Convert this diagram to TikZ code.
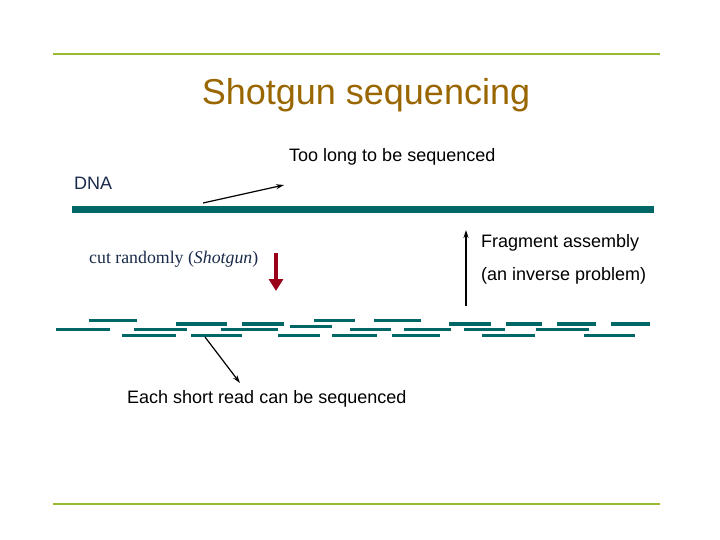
\documentclass[tikz,border=0pt]{standalone}
\usepackage{fontspec}
\setmainfont{Liberation Sans}
\newfontfamily\serifff{Liberation Serif}
\usetikzlibrary{arrows.meta}
\definecolor{olive}{HTML}{99BB33}
\definecolor{teal2}{HTML}{006666}
\definecolor{brownT}{HTML}{996600}
\definecolor{navy}{HTML}{1A2A4A}
\definecolor{darkred}{HTML}{99001A}
\begin{document}
\begin{tikzpicture}[x=1bp,y=-1bp,
  rule/.style={olive,line width=2.5bp},
  frag/.style={teal2,line width=3.2bp},
  txt/.style={inner sep=0pt,anchor=west,font=\fontsize{18bp}{21bp}\selectfont},
  arr/.style={-{Stealth[length=8bp,width=5bp]},line width=1.2bp}]
\useasboundingbox (0,0) rectangle (720,540);
\draw[rule] (53,54) -- (660,54);
\draw[rule] (53,504) -- (660,504);
\node[inner sep=0pt,text=brownT,font=\fontsize{36bp}{42bp}\selectfont] (title) at (366,95) {Shotgun sequencing};
\draw[teal2,line width=7bp] (72,210) -- (654,210);
\node[txt,text=navy] (dna) at (74,183) {DNA};
\node[txt] (long) at (289,157) {Too long to be sequenced};
\coordinate (a1) at (203,203);
\coordinate (a2) at (284,185);
\draw[arr] (a1) -- (a2);
\node[txt,text=navy,font=\serifff\fontsize{17.8bp}{21bp}\selectfont] (cut) at (89,259) {cut randomly (\textit{Shotgun})};
\coordinate (r1) at (276,253);
\coordinate (r2) at (276,291);
\draw[darkred,line width=4bp,-{Triangle[length=12bp,width=14bp]}] (r1) -- (r2);
\node[txt] (fa) at (481,243) {Fragment assembly};
\node[txt] (inv) at (481,276) {(an inverse problem)};
\coordinate (u1) at (466,306);
\coordinate (u2) at (466,230);
\draw[arr] (u1) -- (u2);
\foreach \a/\b/\y in {
 120/240/320.7, 688/793/320.7, 840/960/320.7,
 340/468/324, 507/612/324, 1030/1136/324, 1173/1265/324, 1302/1401/324, 1439/1537/324,
 627/733/326.7,
 35/171/329.7, 233/368/329.7, 453/597/329.7, 779/884/329.7, 916/1036/329.7, 1067/1172/329.7, 1249/1385/329.7,
 202/338/335.7, 377/505/335.7, 597/703/335.7, 733/847/335.7, 885/1006/335.7, 1113/1248/335.7, 1371/1499/335.7}
 \draw[frag] ({42+\a/2.53},\y) -- ({42+\b/2.53},\y);
\coordinate (e1) at (205,337);
\coordinate (e2) at (240,383);
\draw[arr] (e1) -- (e2);
\node[txt] (each) at (127,399) {Each short read can be sequenced};
\end{tikzpicture}
\end{document}
